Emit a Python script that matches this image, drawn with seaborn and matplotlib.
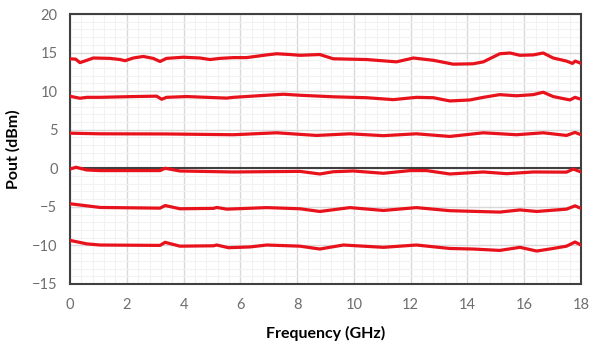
import matplotlib
matplotlib.use("Agg")
import matplotlib.pyplot as plt
import matplotlib.ticker as ticker
import pandas as pd
import seaborn as sns

# output power traces, one per input drive level
freq_p15 = [0.0, 0.2, 0.35, 0.59, 0.82, 1.41, 1.76, 1.94, 2.23, 2.58, 2.93, 3.17, 3.4, 3.99,
            4.58, 4.93, 5.28, 5.75, 6.22, 6.93, 7.28, 7.75, 8.1, 8.8, 9.27, 10.45, 11.5, 12.1,
            12.8, 13.5, 14.2, 14.56, 15.14, 15.5, 15.85, 16.32, 16.67, 17.02, 17.49, 17.7,
            17.8, 18.0]
pout_p15 = [14.2, 14.15, 13.7, 14.0, 14.3, 14.25, 14.1, 13.95, 14.3, 14.5, 14.25, 13.85, 14.25,
            14.4, 14.3, 14.1, 14.25, 14.35, 14.35, 14.7, 14.85, 14.75, 14.65, 14.75, 14.2, 14.1,
            13.8, 14.3, 14.0, 13.5, 13.55, 13.8, 14.85, 14.95, 14.65, 14.7, 14.95, 14.3, 13.9,
            13.6, 13.9, 13.6]

freq_p10 = [0.0, 0.35, 0.59, 1.06, 2.23, 3.05, 3.23, 3.4, 4.11, 5.52, 5.75, 6.93, 7.52, 8.1,
            9.27, 10.45, 11.39, 12.2, 12.8, 13.38, 14.09, 14.56, 15.14, 15.73, 16.32, 16.67,
            17.02, 17.61, 17.79, 18.0]
pout_p10 = [9.34, 9.08, 9.2, 9.2, 9.3, 9.35, 8.95, 9.2, 9.3, 9.1, 9.2, 9.47, 9.6, 9.47, 9.27,
            9.15, 8.9, 9.2, 9.15, 8.73, 8.86, 9.2, 9.55, 9.4, 9.55, 9.86, 9.3, 8.86, 9.2, 8.95]

freq_p5 = [0.0, 1.06, 3.4, 5.75, 7.28, 8.1, 8.69, 9.86, 11.04, 12.2, 13.38, 14.56, 15.73,
           16.67, 17.49, 17.79, 18.0]
pout_p5 = [4.55, 4.47, 4.45, 4.35, 4.6, 4.4, 4.26, 4.47, 4.23, 4.47, 4.13, 4.6, 4.35, 4.6,
           4.26, 4.65, 4.35]

freq_p0 = [0.0, 0.21, 0.59, 1.06, 3.17, 3.35, 3.87, 5.75, 8.1, 8.8, 9.27, 9.98, 11.04, 11.98,
           12.56, 13.38, 14.56, 15.38, 16.32, 17.49, 17.73, 18.0]
pout_p0 = [-0.1, 0.13, -0.22, -0.3, -0.3, 0.0, -0.35, -0.48, -0.4, -0.74, -0.45, -0.35, -0.65,
           -0.3, -0.3, -0.74, -0.48, -0.7, -0.48, -0.5, -0.1, -0.48]

freq_m5 = [0.0, 1.06, 3.17, 3.35, 3.87, 5.05, 5.17, 5.52, 6.93, 8.1, 8.8, 9.86, 11.04, 12.2,
           13.38, 15.14, 15.85, 16.44, 17.49, 17.79, 18.0]
pout_m5 = [-4.6, -5.08, -5.17, -4.83, -5.25, -5.2, -5.08, -5.3, -5.1, -5.25, -5.6, -5.1, -5.47,
           -5.1, -5.5, -5.68, -5.4, -5.6, -5.3, -4.87, -5.2]

freq_m10 = [0.0, 0.59, 1.06, 3.17, 3.35, 3.87, 5.05, 5.17, 5.58, 6.34, 6.93, 8.1, 8.8, 9.63,
            11.04, 12.2, 13.38, 14.2, 15.14, 15.85, 16.44, 17.02, 17.49, 17.79, 18.0]
pout_m10 = [-9.35, -9.8, -9.95, -10.0, -9.6, -10.1, -10.05, -9.95, -10.3, -10.2, -9.95, -10.1,
            -10.47, -9.95, -10.25, -9.95, -10.4, -10.47, -10.65, -10.25, -10.73, -10.4, -10.1,
            -9.56, -9.95]

traces = {
    "p15": (freq_p15, pout_p15),
    "p10": (freq_p10, pout_p10),
    "p5": (freq_p5, pout_p5),
    "p0": (freq_p0, pout_p0),
    "m5": (freq_m5, pout_m5),
    "m10": (freq_m10, pout_m10),
}

df = pd.concat(
    [pd.DataFrame({"freq": f, "pout": p, "trace": name}) for name, (f, p) in traces.items()],
    ignore_index=True,
)

sns.set_style("white")
plt.rcParams["font.family"] = ["Lato", "DejaVu Sans"]

fig = plt.figure(figsize=(6, 3.51), dpi=100)
ax = fig.add_axes([0.1167, 0.191, 0.8516, 0.769])

# grid first so the traces sit on top
ax.xaxis.set_major_locator(ticker.MultipleLocator(2))
ax.yaxis.set_major_locator(ticker.MultipleLocator(5))
ax.xaxis.set_minor_locator(ticker.AutoMinorLocator(5))
ax.yaxis.set_minor_locator(ticker.AutoMinorLocator(5))
ax.grid(which="major", color="#D9D9D9", linewidth=1.0)
ax.grid(which="minor", color="#F2F2F2", linewidth=0.8)
ax.set_axisbelow(True)

ax.axhline(0, color="#404040", linewidth=1.5, zorder=1)

sns.lineplot(
    data=df, x="freq", y="pout", units="trace", estimator=None,
    color="#E8121C", linewidth=2.3, ax=ax, sort=False, zorder=3,
    solid_joinstyle="round", solid_capstyle="round",
)

ax.set_xlim(0, 18)
ax.set_ylim(-15, 20)

for side in ax.spines.values():
    side.set_visible(True)
    side.set_color("#404040")
    side.set_linewidth(1.5)

ax.tick_params(axis="both", which="both", length=0, colors="#6E6E6E", labelsize=10.5)
ax.tick_params(axis="x", pad=10)
ax.tick_params(axis="y", pad=9)
ax.set_xlabel("Frequency (GHz)", fontsize=11.5, fontweight="bold", color="black", labelpad=10)
ax.set_ylabel("Pout (dBm)", fontsize=11.5, fontweight="bold", color="black", labelpad=8)

fig.savefig("out.png", dpi=100)
